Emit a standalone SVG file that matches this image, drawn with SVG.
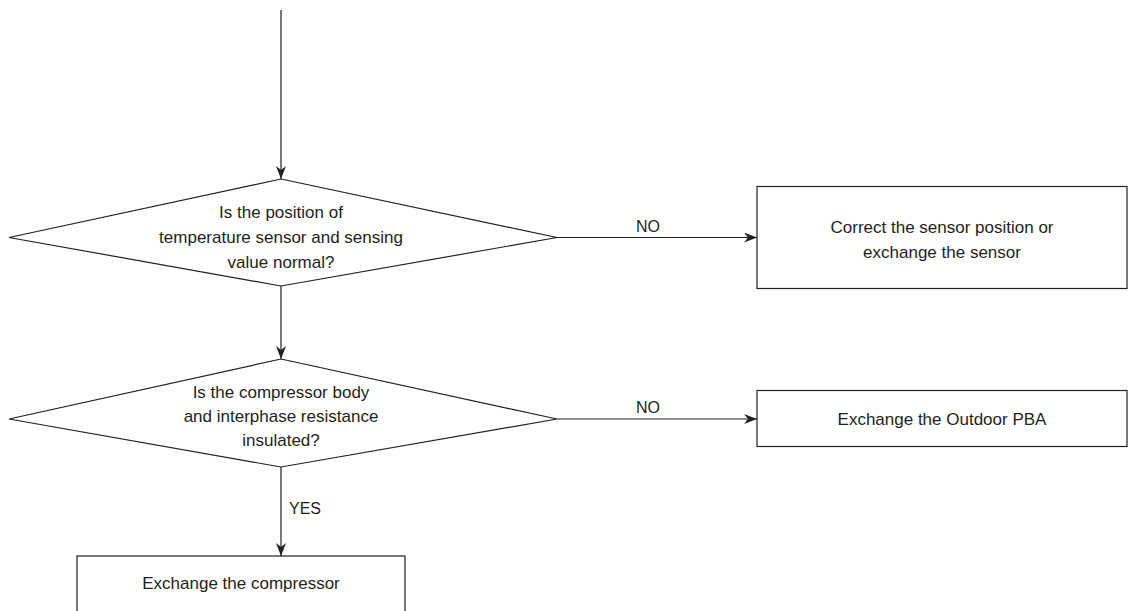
<svg xmlns="http://www.w3.org/2000/svg" width="1129" height="611" viewBox="0 0 1129 611">
<style>
  .shape { fill: #ffffff; stroke: #231f20; stroke-width: 1.2; }
  .conn { fill: none; stroke: #231f20; stroke-width: 1.2; }
  .t { font-family: "Liberation Sans", Arial, sans-serif; font-size: 17px; fill: #231f20; text-anchor: middle; }
  .lbl { font-family: "Liberation Sans", Arial, sans-serif; font-size: 16px; fill: #231f20; }
</style>
<defs>
  <marker id="arrow" markerUnits="userSpaceOnUse" markerWidth="14" markerHeight="10" refX="13" refY="5" orient="auto">
    <path d="M0,0 L13,5 L0,10 L4,5 Z" fill="#231f20"/>
  </marker>
</defs>
<rect width="1129" height="611" fill="#ffffff"/>

<g id="connectors">
  <line class="conn" x1="281" y1="10" x2="281" y2="179" marker-end="url(#arrow)"/>
  <line class="conn" x1="557" y1="237.5" x2="757" y2="237.5" marker-end="url(#arrow)"/>
  <line class="conn" x1="281" y1="286" x2="281" y2="359" marker-end="url(#arrow)"/>
  <line class="conn" x1="557" y1="419" x2="757" y2="419" marker-end="url(#arrow)"/>
  <line class="conn" x1="281" y1="467" x2="281" y2="556" marker-end="url(#arrow)"/>
  <text class="lbl" x="648" y="232" text-anchor="middle">NO</text>
  <text class="lbl" x="648" y="413" text-anchor="middle">NO</text>
  <text class="lbl" x="289" y="514">YES</text>
</g>

<g id="decision1">
  <polygon class="shape" points="281,179 557,237.5 281,286 9,237.5"/>
  <text class="t" x="281" y="218">Is the position of</text>
  <text class="t" x="281" y="243">temperature sensor and sensing</text>
  <text class="t" x="281" y="268">value normal?</text>
</g>

<g id="action1">
  <rect class="shape" x="757" y="186.5" width="370" height="102"/>
  <text class="t" x="942" y="233">Correct the sensor position or</text>
  <text class="t" x="942" y="258">exchange the sensor</text>
</g>

<g id="decision2">
  <polygon class="shape" points="281,359 557,419 281,467 9,419"/>
  <text class="t" x="281" y="398">Is the compressor body</text>
  <text class="t" x="281" y="422">and interphase resistance</text>
  <text class="t" x="281" y="446">insulated?</text>
</g>

<g id="action2">
  <rect class="shape" x="757" y="390.5" width="370" height="56"/>
  <text class="t" x="942" y="425">Exchange the Outdoor PBA</text>
</g>

<g id="action3">
  <rect class="shape" x="77" y="556" width="328" height="70"/>
  <text class="t" x="241" y="589">Exchange the compressor</text>
</g>
</svg>
